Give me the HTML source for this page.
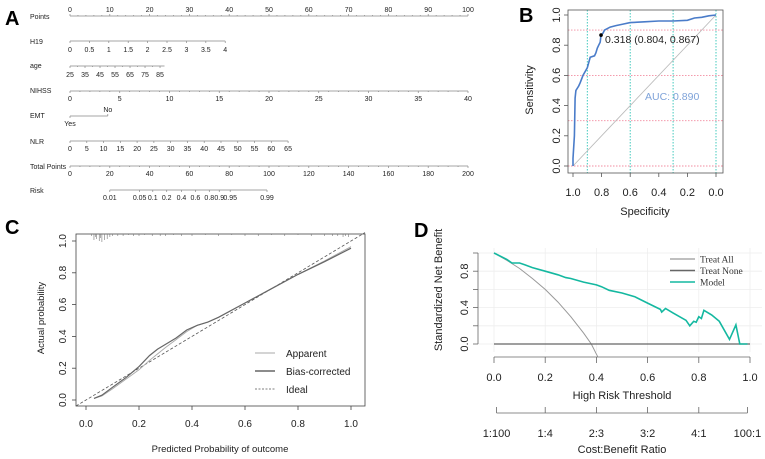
<!DOCTYPE html>
<html><head><meta charset="utf-8"><style>
body{margin:0;background:#fff}
svg{display:block;font-family:"Liberation Sans",Arial,sans-serif}
</style></head><body>
<svg id="fig" width="765" height="459" viewBox="0 0 765 459" xmlns="http://www.w3.org/2000/svg">
<g id="pA"></g>
<g id="pB"></g>
<g id="pC"></g>
<g id="pD"></g>
</svg>
<script>
// ---------- Panel A data (nomogram) ----------
const pointsTicks=[0,10,20,30,40,50,60,70,80,90,100];
const h19Ticks=[0,0.5,1,1.5,2,2.5,3,3.5,4];
const h19PointsPerUnit=9.75;
const ageTicks=[25,35,45,55,65,75,85];
const agePointsPerYear=0.377; const ageMax=88;
const nihssTicks=[0,5,10,15,20,25,30,35,40];
const nihssPointsPerUnit=2.5;
const emtLevels=["Yes","No"]; const emtPoints=[0,9.5];
const nlrTicks=[0,5,10,15,20,25,30,35,40,45,50,55,60,65];
const nlrPointsPerUnit=0.843;
const totalTicks=[0,20,40,60,80,100,120,140,160,180,200];
const riskLabels=["0.01","0.05","0.1","0.2","0.4","0.6","0.8","0.9","0.95","0.99"];
const riskTotals=[20,35,41.6,48.6,56,63,70,75,80.5,99];
// ---------- Panel B data (ROC) ----------
const rocSpec=[1,1,0.99,0.985,0.98,0.96,0.95,0.93,0.9,0.88,0.85,0.84,0.83,0.82,0.81,0.804,0.79,0.78,0.74,0.7,0.65,0.6,0.5,0.4,0.3,0.2,0.15,0.1,0.05,0];
const rocSens=[0,0.05,0.2,0.45,0.5,0.53,0.55,0.6,0.65,0.72,0.73,0.75,0.78,0.8,0.82,0.867,0.88,0.9,0.92,0.93,0.94,0.95,0.955,0.96,0.96,0.965,0.98,0.985,0.995,1];
const rocBest=[0.804,0.867]; const aucText="AUC: 0.890";
// ---------- Panel C data (calibration) ----------
const calX=[0.03,0.06,0.1,0.15,0.2,0.24,0.27,0.3,0.34,0.38,0.42,0.46,0.5,0.6,0.7,0.8,0.9,1.0];
const calBias=[0.01,0.03,0.08,0.14,0.21,0.28,0.32,0.35,0.39,0.44,0.47,0.49,0.52,0.61,0.7,0.79,0.87,0.955];
const calApparent=[0.01,0.025,0.07,0.13,0.19,0.25,0.29,0.33,0.38,0.43,0.47,0.49,0.52,0.61,0.7,0.79,0.875,0.965];
const rugX=[0.02,0.03,0.035,0.04,0.05,0.055,0.06,0.07,0.08,0.09,0.1,0.12,0.14,0.16,0.18,0.2,0.22,0.25,0.28,0.3,0.33,0.36,0.4,0.45,0.5,0.55,0.6,0.65,0.7,0.75,0.8,0.85,0.9,0.93,0.95,0.97,0.98,0.99];
const rugLen=[2,6,3,5,7,4,8,6,5,3,2,2,2,1,2,2,1,2,2,2,1,2,2,1,2,1,2,2,1,2,1,2,2,2,2,3,2,3];
// ---------- Panel D data (DCA) ----------
const modelT=[0,0.05,0.07,0.1,0.12,0.15,0.2,0.25,0.28,0.3,0.35,0.4,0.42,0.45,0.5,0.55,0.6,0.65,0.655,0.67,0.7,0.75,0.765,0.78,0.79,0.8,0.81,0.82,0.85,0.88,0.92,0.945,0.96,0.99];
const modelNB=[1,0.93,0.89,0.89,0.87,0.84,0.8,0.76,0.73,0.72,0.68,0.65,0.63,0.59,0.56,0.52,0.45,0.38,0.35,0.39,0.34,0.26,0.2,0.25,0.24,0.3,0.28,0.37,0.32,0.25,0.05,0.21,0,0];
const allT=[0,0.05,0.1,0.15,0.2,0.25,0.3,0.35,0.38,0.405];
const allNB=[1,0.92,0.83,0.72,0.6,0.46,0.3,0.12,0,-0.14];
const dcaXTicks=[0,0.2,0.4,0.6,0.8,1.0];
const dcaYTicks=[0,0.2,0.4,0.6,0.8,1.0];
const ratioLabels=["1:100","1:4","2:3","3:2","4:1","100:1"];

const NS="http://www.w3.org/2000/svg";
function mk(parent,tag,attrs,text){const e=document.createElementNS(NS,tag);for(const k in attrs)e.setAttribute(k,attrs[k]);if(text!==undefined)e.textContent=text;parent.appendChild(e);return e;}

// ---------- Panel A ----------
(function(){
const g=document.getElementById('pA');
const px=p=>70+p*3.98;
const L=mk(g,'text',{x:5,y:25,'font-size':20,'font-weight':'bold'},'A');

function row(name,ly,lineY,x0,x1){
  const t=mk(g,'text',{x:30,y:ly,'font-size':7,fill:'#222'},name);
  
  const l=mk(g,'line',{x1:x0,x2:x1,y1:lineY,y2:lineY,stroke:'#888','stroke-width':0.8});
  
}
function tick(x,y,dy,lab,ty){
  mk(g,'line',{x1:x,x2:x,y1:y,y2:y+dy,stroke:'#888','stroke-width':0.7});
  if(lab!==null){const t=mk(g,'text',{x:x,y:ty,'font-size':7,'text-anchor':'middle',fill:'#222'},lab);
  }
}
// Points
row('Points',19,16,px(0),px(100));
pointsTicks.forEach(v=>tick(px(v),16,-2,String(v),12));
for(let v=0;v<=100;v+=2) if(v%10) tick(px(v),16,-1,null);
// H19
row('H19',44,41,px(0),px(4*h19PointsPerUnit));
h19Ticks.forEach(v=>tick(px(v*h19PointsPerUnit),41,2,String(v),52));
// age
row('age',68,66,px(0),px((ageMax-25)*agePointsPerYear));
ageTicks.forEach(v=>tick(px((v-25)*agePointsPerYear),66,2,String(v),77));
for(let v=30;v<ageMax;v+=10) tick(px((v-25)*agePointsPerYear),66,1,null);
// NIHSS
row('NIHSS',93,91,px(0),px(40*nihssPointsPerUnit));
nihssTicks.forEach(v=>tick(px(v*nihssPointsPerUnit),91,2,String(v),101));
for(let v=1;v<40;v++) if(v%5) tick(px(v*nihssPointsPerUnit),91,1,null);
// EMT
row('EMT',118,116,px(emtPoints[0]),px(emtPoints[1]));
tick(px(emtPoints[0]),116,2,emtLevels[0],126);
tick(px(emtPoints[1]),116,-2,emtLevels[1],112);
// NLR
row('NLR',144,141,px(0),px(65*nlrPointsPerUnit));
nlrTicks.forEach(v=>tick(px(v*nlrPointsPerUnit),141,2,String(v),151));
// Total points
row('Total Points',169,166,70,468);
const tx=v=>70+v*1.99;
totalTicks.forEach(v=>tick(tx(v),166,2,String(v),176));
for(let v=5;v<200;v+=5) if(v%20) tick(tx(v),166,1,null);
// Risk
row('Risk',193,190,tx(riskTotals[0]),tx(riskTotals[riskTotals.length-1]));
riskLabels.forEach((lab,i)=>tick(tx(riskTotals[i]),190,2,lab,200));
})();

// ---------- Panel B ----------
(function(){
const g=document.getElementById('pB');
const X=s=>573+(1-s)*143, Y=v=>166-v*151;
const L=mk(g,'text',{x:519,y:22,'font-size':20,'font-weight':'bold'},'B');

[0.9,0.6,0.3,0].forEach(s=>{const l=mk(g,'line',{x1:X(s),x2:X(s),y1:10,y2:173,stroke:'#2ec4b6','stroke-width':0.9,'stroke-dasharray':'1.5,1.5'});});
[0,0.3,0.6,0.9].forEach(v=>{const l=mk(g,'line',{x1:568,x2:723,y1:Y(v),y2:Y(v),stroke:'#f28ca0','stroke-width':0.9,'stroke-dasharray':'1.5,1.5'});});
const b=mk(g,'rect',{x:568,y:10,width:155,height:163,fill:'none',stroke:'#555','stroke-width':0.8});

const d=mk(g,'line',{x1:X(1),y1:Y(0),x2:X(0),y2:Y(1),stroke:'#bbb','stroke-width':0.9});

const pts=rocSpec.map((s,i)=>X(s).toFixed(1)+','+Y(rocSens[i]).toFixed(1)).join(' ');
const c=mk(g,'polyline',{points:pts,fill:'none',stroke:'#4a7cc9','stroke-width':1.6});

const p=mk(g,'circle',{cx:X(rocBest[0]),cy:Y(rocBest[1]),r:1.8,fill:'#000'});

const pl=mk(g,'text',{x:X(rocBest[0])+4,y:Y(rocBest[1])+8,'font-size':10.5,fill:'#222'},'0.318 ('+rocBest[0].toFixed(3)+', '+rocBest[1].toFixed(3)+')');

const a=mk(g,'text',{x:645,y:100,'font-size':10.5,fill:'#7fa3d9'},aucText);

[1,0.8,0.6,0.4,0.2,0].forEach(s=>{mk(g,'line',{x1:X(s),x2:X(s),y1:173,y2:177,stroke:'#555','stroke-width':0.8});
 const t=mk(g,'text',{x:X(s),y:196,'font-size':11,'text-anchor':'middle',fill:'#222'},s.toFixed(1));});
[0,0.2,0.4,0.6,0.8,1].forEach(v=>{mk(g,'line',{x1:564,x2:568,y1:Y(v),y2:Y(v),stroke:'#555','stroke-width':0.8});
 const t=mk(g,'text',{x:0,y:0,'font-size':11,'text-anchor':'middle',fill:'#222',transform:`translate(560,${Y(v)}) rotate(-90)`},v.toFixed(1));});
const xt=mk(g,'text',{x:645,y:215,'font-size':11,'text-anchor':'middle',fill:'#222'},'Specificity');

const yt=mk(g,'text',{x:0,y:0,'font-size':11,'text-anchor':'middle',fill:'#222',transform:'translate(533,90) rotate(-90)'},'Sensitivity');

})();

// ---------- Panel C ----------
(function(){
const g=document.getElementById('pC');
const X=v=>86+v*265, Y=v=>400-v*159;
const L=mk(g,'text',{x:5,y:234,'font-size':20,'font-weight':'bold'},'C');

const b=mk(g,'rect',{x:76,y:234,width:289,height:172,fill:'none',stroke:'#444','stroke-width':0.8});

rugX.forEach((v,i)=>{const r=mk(g,'line',{x1:X(v),x2:X(v),y1:234,y2:234+rugLen[i],stroke:'#777','stroke-width':0.6});});
const id=mk(g,'line',{x1:76,y1:Y((76-86)/265),x2:365,y2:Y((365-86)/265),stroke:'#555','stroke-width':0.8,'stroke-dasharray':'3,2'});

const ap=mk(g,'polyline',{points:calX.map((x,i)=>X(x).toFixed(1)+','+Y(calApparent[i]).toFixed(1)).join(' '),fill:'none',stroke:'#aaa','stroke-width':0.9});

const bc=mk(g,'polyline',{points:calX.map((x,i)=>X(x).toFixed(1)+','+Y(calBias[i]).toFixed(1)).join(' '),fill:'none',stroke:'#666','stroke-width':1.2});

[['Apparent','#aaa','',0.9],['Bias-corrected','#666','',1.4],['Ideal','#555','2,1.5',0.8]].forEach((e,i)=>{const y=353+i*18;
 const l=mk(g,'line',{x1:255,x2:275,y1:y,y2:y,stroke:e[1],'stroke-width':e[3],'stroke-dasharray':e[2]});
 const t=mk(g,'text',{x:286,y:y+4,'font-size':10,fill:'#222'},e[0]);});
[0,0.2,0.4,0.6,0.8,1].forEach(v=>{mk(g,'line',{x1:X(v),x2:X(v),y1:406,y2:410,stroke:'#444','stroke-width':0.8});
 const t=mk(g,'text',{x:X(v),y:427,'font-size':10,'text-anchor':'middle',fill:'#222'},v.toFixed(1));
 mk(g,'line',{x1:72,x2:76,y1:Y(v),y2:Y(v),stroke:'#444','stroke-width':0.8});
 const u=mk(g,'text',{x:0,y:0,'font-size':10,'text-anchor':'middle',fill:'#222',transform:`translate(66,${Y(v)}) rotate(-90)`},v.toFixed(1));});
const xt=mk(g,'text',{x:220,y:452,'font-size':9.5,'text-anchor':'middle',fill:'#222'},'Predicted Probability of outcome');

const yt=mk(g,'text',{x:0,y:0,'font-size':9.5,'text-anchor':'middle',fill:'#222',transform:'translate(44,318) rotate(-90)'},'Actual probability');

})();

// ---------- Panel D ----------
(function(){
const g=document.getElementById('pD');
const X=v=>494+v*256, Y=v=>344-v*91;
const L=mk(g,'text',{x:414,y:237,'font-size':20,'font-weight':'bold'},'D');

dcaYTicks.forEach(v=>{const l=mk(g,'line',{x1:478,x2:762,y1:Y(v),y2:Y(v),stroke:'#eee','stroke-width':0.8});});
dcaXTicks.forEach(v=>{const l=mk(g,'line',{x1:X(v),x2:X(v),y1:248,y2:352,stroke:'#eee','stroke-width':0.8});});
const ta=mk(g,'polyline',{points:allT.map((t,i)=>X(t).toFixed(1)+','+Y(allNB[i]).toFixed(1)).join(' '),fill:'none',stroke:'#999','stroke-width':1});

const tn=mk(g,'line',{x1:X(0),x2:X(1),y1:Y(0),y2:Y(0),stroke:'#666','stroke-width':1.2});

const md=mk(g,'polyline',{points:modelT.map((t,i)=>X(t).toFixed(1)+','+Y(modelNB[i]).toFixed(1)).join(' '),fill:'none',stroke:'#14b8a0','stroke-width':1.6});

[['Treat All','#aaa'],['Treat None','#666'],['Model','#14b8a0']].forEach((e,i)=>{const y=259+i*11.5;
 const l=mk(g,'line',{x1:670,x2:695,y1:y,y2:y,stroke:e[1],'stroke-width':1.4});
 const t=mk(g,'text',{x:700,y:y+3.5,'font-size':9.5,fill:'#333','font-family':'Liberation Serif, serif'},e[0]);});
// y axis
mk(g,'line',{x1:478,x2:478,y1:Y(0),y2:Y(1),stroke:'#666','stroke-width':0.8});
dcaYTicks.forEach(v=>{mk(g,'line',{x1:473,x2:478,y1:Y(v),y2:Y(v),stroke:'#666','stroke-width':0.8});});
[0,0.4,0.8].forEach(v=>{const t=mk(g,'text',{x:0,y:0,'font-size':11,'text-anchor':'middle',fill:'#222',transform:`translate(468,${Y(v)}) rotate(-90)`},v.toFixed(1));});
const yt=mk(g,'text',{x:0,y:0,'font-size':11,'text-anchor':'middle',fill:'#222',transform:'translate(442,290) rotate(-90)'},'Standardized Net Benefit');

// x axis
mk(g,'line',{x1:X(0),x2:X(1),y1:357,y2:357,stroke:'#666','stroke-width':0.8});
dcaXTicks.forEach(v=>{mk(g,'line',{x1:X(v),x2:X(v),y1:357,y2:363,stroke:'#666','stroke-width':0.8});
 const t=mk(g,'text',{x:X(v),y:381,'font-size':11,'text-anchor':'middle',fill:'#222'},v.toFixed(1));});
const xt=mk(g,'text',{x:622,y:399,'font-size':11,'text-anchor':'middle',fill:'#222'},'High Risk Threshold');

// ratio axis
mk(g,'line',{x1:X(0.01),x2:X(0.99),y1:413,y2:413,stroke:'#666','stroke-width':0.8});
ratioLabels.forEach((lab,i)=>{const v=[0.01,0.2,0.4,0.6,0.8,0.99][i];
 mk(g,'line',{x1:X(v),x2:X(v),y1:407,y2:413,stroke:'#666','stroke-width':0.8});
 const t=mk(g,'text',{x:X(v),y:437,'font-size':11,'text-anchor':'middle',fill:'#222'},lab);});
const rt=mk(g,'text',{x:622,y:453,'font-size':11,'text-anchor':'middle',fill:'#222'},'Cost:Benefit Ratio');

})();
</script>
</body></html>
